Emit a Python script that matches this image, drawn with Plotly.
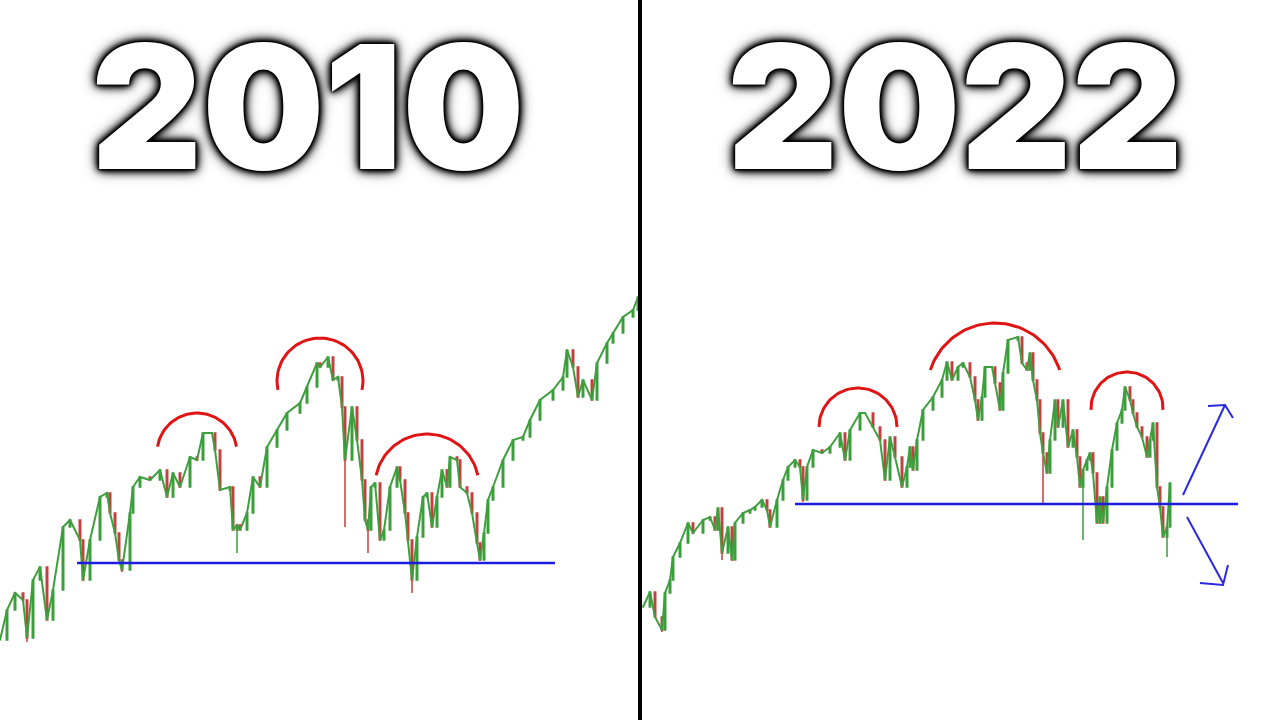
import numpy as np
import plotly.graph_objects as go

# ---------------- data (x = position, price = level) -------------
left_x = [0, 7, 15, 23, 27, 33, 40, 47, 53, 63, 70, 80, 83, 90, 100, 107, 110, 115, 119, 122,
          130, 133, 140, 150, 160, 167, 173, 180, 190, 197, 203, 212, 215, 220, 230, 233, 237, 240,
          247, 253, 260, 267, 277, 287, 300, 307, 317, 320, 328, 333, 338, 342, 345, 352, 357, 362,
          365, 368, 371, 375, 380, 384, 390, 397, 400, 405, 408, 412, 417, 423, 427, 432, 437, 442,
          447, 450, 457, 460, 467, 472, 477, 480, 484, 488, 493, 503, 513, 523, 530, 540, 553, 563,
          567, 573, 578, 583, 592, 597, 607, 613, 623, 633, 638]
left_close = [80, 110, 127, 120, 82, 140, 153, 100, 130, 193, 200, 180, 140, 180, 223, 227, 207, 187, 160, 150,
              207, 233, 243, 240, 250, 223, 247, 233, 263, 260, 287, 287, 270, 230, 233, 190, 195, 190,
              207, 243, 233, 273, 290, 307, 317, 333, 357, 353, 363, 340, 343, 313, 260, 313, 280, 240,
              200, 190, 233, 237, 180, 190, 233, 253, 240, 207, 180, 140, 183, 223, 227, 193, 223, 250,
              233, 263, 260, 233, 227, 207, 177, 160, 187, 220, 233, 260, 280, 283, 300, 320, 330, 343,
              370, 353, 323, 340, 320, 357, 377, 387, 403, 410, 423]
left_wick_x = [237, 345, 368, 412, 27, 122]
left_wick_low = [167, 193, 167, 127, 78, 148]

right_x = [643, 650, 655, 662, 665, 670, 673, 680, 688, 693, 703, 710, 715, 718, 722, 728, 732, 735,
           743, 750, 755, 762, 767, 770, 777, 783, 788, 795, 800, 803, 807, 813, 822, 830, 840, 845,
           850, 860, 865, 873, 880, 885, 890, 895, 902, 907, 910, 913, 917, 923, 933, 942, 947, 952,
           958, 963, 970, 975, 978, 982, 985, 992, 995, 1000, 1003, 1008, 1018, 1022, 1027, 1030,
           1033, 1037, 1040, 1043, 1047, 1050, 1055, 1058, 1063, 1068, 1073, 1077, 1080, 1083, 1087,
           1090, 1093, 1097, 1100, 1103, 1107, 1112, 1117, 1122, 1125, 1130, 1133, 1137, 1142, 1147,
           1150, 1153, 1157, 1160, 1163, 1167, 1170]
right_close = [113, 128, 103, 90, 127, 140, 163, 177, 197, 187, 200, 203, 190, 212, 167, 193, 160, 197,
               207, 210, 213, 220, 210, 193, 220, 240, 253, 260, 253, 220, 253, 270, 267, 273, 287, 260,
               290, 307, 307, 293, 280, 240, 283, 263, 233, 253, 273, 250, 280, 310, 323, 340, 358, 340,
               353, 357, 343, 320, 300, 323, 353, 353, 337, 310, 347, 380, 383, 357, 350, 367,
               340, 320, 287, 267, 247, 280, 320, 293, 320, 273, 290, 263, 233, 250, 260,
               267, 247, 197, 223, 197, 233, 270, 297, 310, 333, 320, 307, 293, 283, 263,
               280, 297, 233, 213, 183, 193, 237]
right_wick_x = [722, 803, 1043, 1083, 1167, 662]
right_wick_low = [160, 218, 217, 180, 163, 88]

support_left = dict(x0=77, x1=555, level=157)
support_right = dict(x0=795, x1=1238, level=216)

# arcs: centre x, centre level, radius, start deg, end deg
arcs = [(197, 267, 40, 171, 9), (320, 339, 43, 192, -12), (427, 234, 52, 168, 12),
        (858, 293, 39, 180, 0), (995, 329, 68, 162, 18), (1127, 312, 36, 183, -3)]

arrow_up = dict(x=[1183, 1225], y=[225, 315], head_x=[1208, 1225, 1233], head_y=[314, 315, 302])
arrow_dn = dict(x=[1187, 1223], y=[203, 137], head_x=[1200, 1223, 1228], head_y=[137, 135, 155])

titles = ["2010", "2022"]
title_x = [308, 955]


def ohlc(xs, closes, wx, wl):
    opens = [closes[0]] + closes[:-1]
    highs = [max(o, c) for o, c in zip(opens, closes)]
    lows = [min(o, c) for o, c in zip(opens, closes)]
    for x, l in zip(wx, wl):
        i = xs.index(x)
        lows[i] = min(lows[i], l)
    return opens, highs, lows


fig = go.Figure()
GREEN = "#3a9e3a"
RED = "#c24040"
for xs, cs, wx, wl in [(left_x, left_close, left_wick_x, left_wick_low),
                       (right_x, right_close, right_wick_x, right_wick_low)]:
    # price path joining the closes
    fig.add_trace(go.Scatter(x=xs, y=cs, mode="lines", line=dict(color="#3f9f3f", width=2),
                             showlegend=False, hoverinfo="skip"))
    o, h, l = ohlc(xs, cs, wx, wl)
    fig.add_trace(go.Candlestick(
        x=xs, open=o, high=h, low=l, close=cs,
        increasing=dict(line=dict(color=GREEN, width=1.5), fillcolor="#285f28"),
        decreasing=dict(line=dict(color=RED, width=1.5), fillcolor="#8a3a30"),
        whiskerwidth=0, showlegend=False, hoverinfo="skip"))

# support lines
for s in (support_left, support_right):
    fig.add_trace(go.Scatter(x=[s["x0"], s["x1"]], y=[s["level"], s["level"]], mode="lines",
                             line=dict(color="#1c1ce0", width=2.5), showlegend=False, hoverinfo="skip"))

# arcs
for cx, cy, r, a0, a1 in arcs:
    t = np.radians(np.linspace(a0, a1, 60))
    fig.add_trace(go.Scatter(x=cx + r * np.cos(t), y=cy + r * np.sin(t), mode="lines",
                             line=dict(color="#e01414", width=3), showlegend=False, hoverinfo="skip"))

# arrows
for a in (arrow_up, arrow_dn):
    fig.add_trace(go.Scatter(x=a["x"], y=a["y"], mode="lines", line=dict(color="#2a2ae0", width=2),
                             showlegend=False, hoverinfo="skip"))
    fig.add_trace(go.Scatter(x=a["head_x"], y=a["head_y"], mode="lines", line=dict(color="#2a2ae0", width=2),
                             showlegend=False, hoverinfo="skip"))

# divider
fig.add_shape(type="line", x0=640, x1=640, y0=0, y1=720, xref="x", yref="y",
              line=dict(color="black", width=4))

shadow = ("0 0 1px #000, 0 0 2px #000, 0 0 2px #000, 0 0 3px #000, 0 0 4px #000, "
          "0 0 6px #000, 0 0 8px #000, 0 0 11px #111, 0 0 15px #333")
for t, x in zip(titles, title_x):
    fig.add_annotation(x=x, y=614, xref="x", yref="y", text=t, showarrow=False,
                       font=dict(family="Inter", size=172, color="white", weight=900, shadow=shadow),
                       xanchor="center", yanchor="middle", align="center")

fig.update_layout(
    width=1280, height=720, margin=dict(l=0, r=0, t=0, b=0),
    paper_bgcolor="white", plot_bgcolor="white",
    xaxis=dict(range=[0, 1280], visible=False, rangeslider=dict(visible=False), fixedrange=True),
    yaxis=dict(range=[0, 720], visible=False, fixedrange=True),
)

fig.write_html("out.html", config={"displayModeBar": False},
               post_script="document.body.style.margin='0';")
